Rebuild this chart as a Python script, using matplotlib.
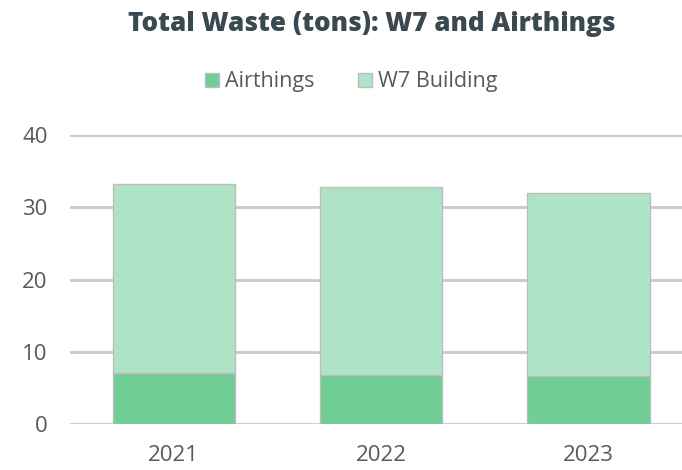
import matplotlib
matplotlib.use("Agg")
import matplotlib.pyplot as plt
import numpy as np
from matplotlib.patches import Patch

years = ["2021", "2022", "2023"]
airthings = [7.0, 6.8, 6.6]
w7_total = [33.2, 32.9, 31.95]
w7_building = [t - a for t, a in zip(w7_total, airthings)]

c_air = "#70cd94"
c_w7 = "#afe3c5"
edge = "#bdbdbd"
grid_c = "#c9c9c9"
txt = "#555a5e"

plt.rcParams['font.family'] = ['Open Sans', 'DejaVu Sans']

fig = plt.figure(figsize=(6.82, 4.70), dpi=100)
ax = fig.add_axes([70/682, 46/470, 612/682, 288.7/470])

x = np.arange(len(years))
w = 0.59
ax.bar(x, airthings, width=w, color=c_air, edgecolor=edge, linewidth=1, zorder=3)
ax.bar(x, w7_building, width=w, bottom=airthings, color=c_w7, edgecolor=edge, linewidth=1, zorder=3)

ax.set_ylim(0, 40)
ax.set_xlim(-0.5, 2.45)
ax.set_yticks([0, 10, 20, 30, 40])
ax.set_xticks(x)
ax.set_xticklabels(years)
ax.yaxis.grid(True, color=grid_c, linewidth=2, zorder=0)
ax.set_axisbelow(True)
for s in ax.spines.values():
    s.set_visible(False)
ax.tick_params(axis='both', length=0, labelsize=16, colors=txt)
ax.tick_params(axis='y', pad=16)
ax.tick_params(axis='x', pad=15)

fig.text(0.545, 0.949, "Total Waste (tons): W7 and Airthings", ha='center', va='center',
         fontsize=18.7, fontweight='heavy', color="#3b4850")

handles = [Patch(facecolor=c_air, edgecolor=edge), Patch(facecolor=c_w7, edgecolor=edge)]
fig.legend(handles, ["Airthings", "W7 Building"], loc='center', bbox_to_anchor=(0.515, 0.826),
           ncol=2, frameon=False, fontsize=15.5, labelcolor=txt, handlelength=0.65,
           handleheight=0.65, handletextpad=0.3, columnspacing=2.0)

fig.savefig("out.png", dpi=100)
